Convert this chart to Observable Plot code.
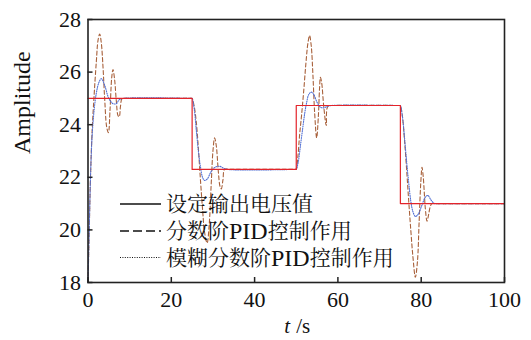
<!DOCTYPE html>
<html>
<head>
<meta charset="utf-8">
<script src="https://cdn.jsdelivr.net/npm/d3@7"></script>
<script src="https://cdn.jsdelivr.net/npm/@observablehq/plot@0.6"></script>
<style>
  html, body { margin: 0; padding: 0; background: white; }
  #wrap { position: relative; width: 531px; height: 340px; }
  #legend { position: absolute; left: 0; top: 0; pointer-events: none; }
</style>
</head>
<body>
<div id="wrap"></div>
<script>
// ---- data ----
const xTicks = [0, 20, 40, 60, 80, 100];
const yTicks = [18, 20, 22, 24, 26, 28];

// set-point (设定输出电压值)
const setT = [0, 25, 50, 75, 100];
const setV = [25, 22.3, 24.73, 21, 21];

// fractional-order PID (分数阶PID控制作用)
const fpidT = [0,0.3,0.6,1.0,1.5,2.0,2.4,2.8,3.2,3.6,4.0,4.5,4.9,5.3,5.7,6.0,6.4,6.8,7.2,7.5,7.8,8.2,9,24.9,25,
  25.5,26,26.5,27,27.5,28,28.6,29.1,29.6,30.0,30.4,30.8,31.3,31.7,32.0,32.4,32.8,34,49.9,50,
  50.4,50.8,51.3,51.8,52.3,52.8,53.2,53.6,54.0,54.4,54.9,55.3,55.6,55.8,56.1,56.6,57.2,57.6,59,74.9,75,
  75.5,76,76.5,77,77.5,78,78.6,79.1,79.5,79.9,80.2,80.5,81.0,81.4,81.8,82.2,82.6,84,100];
const fpidV = [18,20,22,23.8,25.2,26.4,27.2,27.45,27.1,26.2,25.0,23.9,23.7,24.6,25.8,26.1,25.7,24.9,24.35,24.3,24.7,25.0,25.0,25.0,25.0,
  24.7,24.1,23.1,21.9,20.8,19.9,19.5,20.2,21.8,23.0,23.5,23.2,22.2,21.65,21.56,21.9,22.3,22.3,22.3,22.3,
  22.8,23.6,24.4,25.3,26.3,27.1,27.39,27.0,25.9,24.5,23.5,24.3,25.4,25.8,25.6,24.7,23.97,24.7,24.73,24.73,24.73,
  24.3,23.4,22.3,21.1,20.0,19.0,18.2,18.8,20.3,21.8,22.38,22.0,20.8,20.33,20.6,20.9,21.0,21.0,21.0];

// fuzzy fractional-order PID (模糊分数阶PID控制作用)
const fuzzyT = [0,0.3,0.6,1.0,1.5,2.0,2.6,3.2,4.0,5.0,6.0,6.8,7.5,8.5,24.9,25,
  25.5,26,26.5,27,27.5,28,28.7,29.5,30.5,31.6,32.5,33.5,49.9,50,
  50.5,51,51.5,52,52.5,53,53.6,54.2,55,55.8,56.6,57.5,58.5,74.9,75,
  75.5,76,76.5,77,77.5,78,78.6,79.3,80.2,81,81.6,82.3,83.2,84,100];
const fuzzyV = [18,20,22,23.6,24.6,25.2,25.6,25.75,25.5,25.0,24.8,24.8,24.95,25,25,25,
  24.6,23.8,23.0,22.4,22.0,21.88,21.95,22.2,22.38,22.42,22.35,22.3,22.3,22.3,
  22.6,23.2,23.8,24.4,24.85,25.15,25.24,25.15,24.85,24.67,24.64,24.7,24.73,24.73,24.73,
  24.3,23.5,22.6,21.8,21.1,20.7,20.51,20.6,20.95,21.25,21.31,21.15,21.0,21.0,21.0];

const legendLabels = ["设定输出电压值", "分数阶PID控制作用", "模糊分数阶PID控制作用"];

// ---- build ----
const W = 531, H = 340;
const mL = 87.5, mR = 27, mT = 19, mB = 58;
const plotW = W - mL - mR, plotH = H - mT - mB;
const tickLen = 5;
const serif = "Liberation Serif, Noto Serif CJK SC, serif";

const setData = setT.map((t, i) => ({t, v: setV[i]}));
const fpidData = fpidT.map((t, i) => ({t, v: fpidV[i]}));
const fuzzyData = fuzzyT.map((t, i) => ({t, v: fuzzyV[i]}));

const chart = Plot.plot({
  width: W, height: H,
  marginLeft: mL, marginRight: mR, marginTop: mT, marginBottom: mB,
  style: {fontFamily: serif, fontSize: "22px", color: "#111", background: "white"},
  x: {domain: [0, 100]},
  y: {domain: [18, 28]},
  marks: [
    Plot.line(fpidData, {x: "t", y: "v", stroke: "#a8603a", strokeWidth: 1.1, strokeDasharray: "4,2.5", curve: "catmull-rom"}),
    Plot.line(fuzzyData, {x: "t", y: "v", stroke: "#5270d4", strokeWidth: 1.1, strokeDasharray: "1,1.3", curve: "catmull-rom"}),
    Plot.line(setData, {x: "t", y: "v", stroke: "#e3242b", strokeWidth: 1.2, curve: "step-after"}),
    Plot.tickY(yTicks, {y: d => d, insetRight: plotW - tickLen, stroke: "#222", strokeWidth: 1.5}),
    Plot.tickX(xTicks, {x: d => d, insetTop: plotH - tickLen, stroke: "#222", strokeWidth: 1.5}),
    Plot.frame({stroke: "#222", strokeWidth: 1.6}),
    Plot.axisX({ticks: xTicks, tickSize: 0, tickPadding: 9, label: null, fontSize: 22}),
    Plot.axisY({ticks: yTicks, tickSize: 0, tickPadding: 7, label: null, fontSize: 22}),
    Plot.text(["Amplitude"], {frameAnchor: "left", dx: -65.5, dy: 3, rotate: -90, fontSize: 24}),
    Plot.text(["t"], {frameAnchor: "bottom", dx: -9, dy: 50, fontStyle: "italic", fontSize: 21}),
    Plot.text(["/s"], {frameAnchor: "bottom", dx: 7, dy: 50, fontSize: 21})
  ]
});
chart.setAttribute("font-family", serif);
d3.select(chart).selectAll("text").style("font-family", serif);
document.getElementById("wrap").appendChild(chart);

// legend overlay (inside plot area)
const ns = "http://www.w3.org/2000/svg";
const lg = document.createElementNS(ns, "svg");
lg.setAttribute("id", "legend");
lg.setAttribute("width", W);
lg.setAttribute("height", H);
const rowsY = [204, 231, 257.5];
const dashes = [null, "9,4", "1,1.4"];
legendLabels.forEach((lab, i) => {
  const ln = document.createElementNS(ns, "line");
  ln.setAttribute("x1", 120); ln.setAttribute("x2", 161);
  ln.setAttribute("y1", rowsY[i]); ln.setAttribute("y2", rowsY[i]);
  ln.setAttribute("stroke", "#111");
  ln.setAttribute("stroke-width", i === 2 ? 1.2 : 1.6);
  if (dashes[i]) ln.setAttribute("stroke-dasharray", dashes[i]);
  lg.appendChild(ln);
  const tx = document.createElementNS(ns, "text");
  tx.setAttribute("x", 166);
  tx.setAttribute("y", rowsY[i]);
  tx.setAttribute("dominant-baseline", "central");
  tx.style.fontFamily = serif;
  tx.style.fontSize = "21px";
  tx.setAttribute("fill", "#111");
  // "PID" is set in a larger Latin size, as in the reference
  const parts = lab.split("PID");
  parts.forEach((p, j) => {
    if (j > 0) {
      const ts = document.createElementNS(ns, "tspan");
      ts.style.fontSize = "24px";
      ts.textContent = "PID";
      tx.appendChild(ts);
    }
    if (p) {
      const ts = document.createElementNS(ns, "tspan");
      ts.textContent = p;
      tx.appendChild(ts);
    }
  });
  lg.appendChild(tx);
});
document.getElementById("wrap").appendChild(lg);
</script>
</body>
</html>
